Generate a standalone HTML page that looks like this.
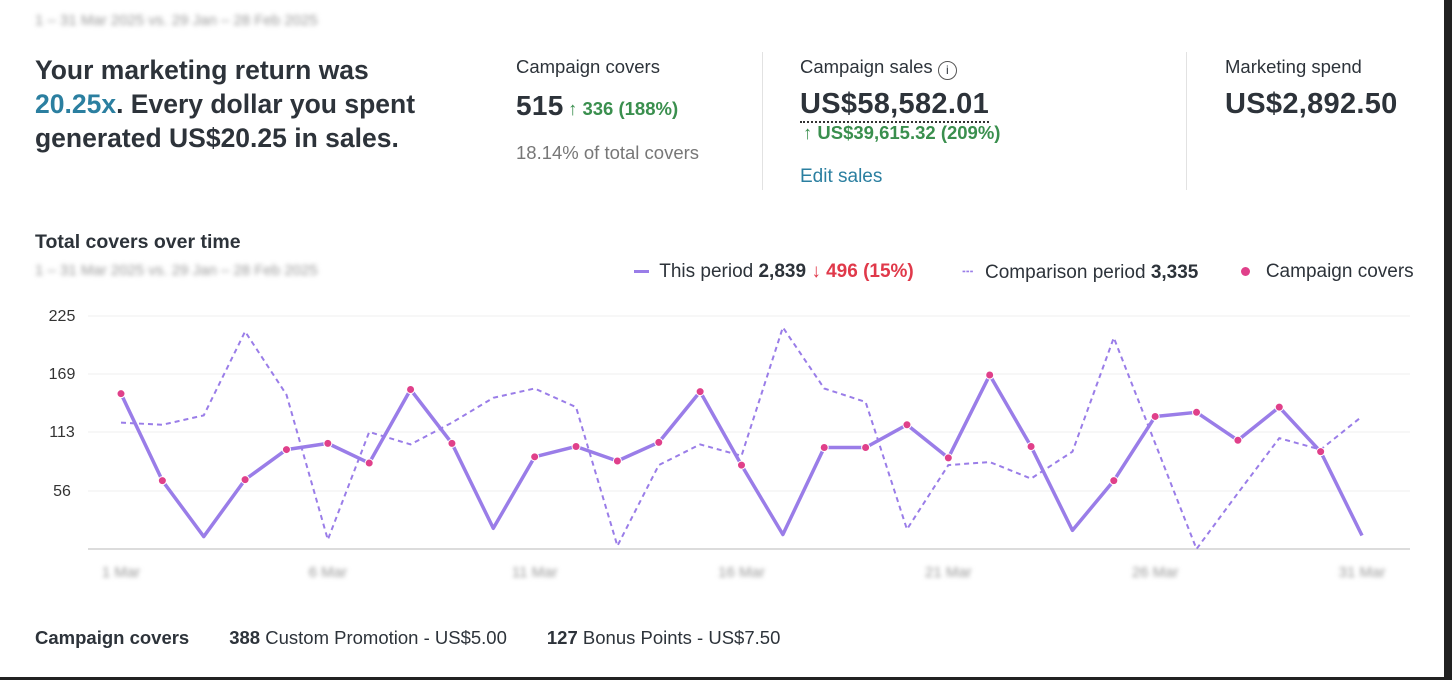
<!DOCTYPE html>
<html><head><meta charset="utf-8">
<style>
body{margin:0;width:1452px;height:680px;overflow:hidden;background:#fff;font-family:"Liberation Sans",sans-serif;color:#2d333a;position:relative}
.a{position:absolute;white-space:nowrap}
.blur{filter:blur(2.5px);color:#999;font-size:15px}
.lbl{font-size:18.5px;color:#2d333a}
.big{font-size:28px;font-weight:bold;color:#2d333a;letter-spacing:0.3px}
.green{color:#3a8f4e}
.div{position:absolute;width:1px;background:#e2e2e2;top:52px;height:138px}
</style></head><body>
<div class="a blur" style="left:35px;top:12px">1 – 31 Mar 2025 vs. 29 Jan – 28 Feb 2025</div>
<div class="a" style="left:35px;top:53px;font-size:26.5px;font-weight:bold;line-height:34px">Your marketing return was<br><span style="color:#2b7fa0">20.25x</span>. Every dollar you spent<br>generated US$20.25 in sales.</div>
<div class="a lbl" style="left:516px;top:56px">Campaign covers</div>
<div class="a" style="left:516px;top:90px"><span class="big">515</span> <span class="green" style="font-size:18.5px;font-weight:bold">↑ 336 (188%)</span></div>
<div class="a" style="left:516px;top:142px;font-size:18.5px;color:#777">18.14% of total covers</div>
<div class="div" style="left:762px"></div>
<div class="a lbl" style="left:800px;top:56px">Campaign sales <span style="display:inline-block;width:17px;height:17px;border:1.5px solid #555;border-radius:50%;font-size:12px;text-align:center;line-height:17px;vertical-align:-1px">i</span></div>
<div class="a big" style="left:800px;top:88px;border-bottom:2px dotted #333;padding-bottom:0px;font-size:29px">US$58,582.01</div>
<div class="a green" style="left:803px;top:122px;font-size:18.5px;font-weight:bold">↑ US$39,615.32 (209%)</div>
<div class="a" style="left:800px;top:166px;font-size:19px;color:#2b7fa0">Edit sales</div>
<div class="div" style="left:1186px"></div>
<div class="a lbl" style="left:1225px;top:56px">Marketing spend</div>
<div class="a big" style="left:1225px;top:88px;font-size:29px">US$2,892.50</div>

<div class="a" style="left:35px;top:231px;font-size:19.5px;font-weight:bold">Total covers over time</div>
<div class="a blur" style="left:35px;top:262px">1 – 31 Mar 2025 vs. 29 Jan – 28 Feb 2025</div>
<div class="a" style="left:634px;top:261px;font-size:19px"><span style="display:inline-block;width:15px;height:3px;background:#9a7de8;vertical-align:middle"></span>&nbsp; This period <b>2,839</b> <span style="color:#e0394a;font-weight:bold">↓ 496 (15%)</span></div>
<div class="a" style="left:962px;top:261px;font-size:19px"><span style="color:#9a7de8;letter-spacing:1px">┄</span>&nbsp; Comparison period <b>3,335</b></div>
<div class="a" style="left:1241px;top:261px;font-size:19px"><span style="display:inline-block;width:9px;height:9px;border-radius:50%;background:#e0408a;vertical-align:middle"></span>&nbsp;&nbsp; Campaign covers</div>
<svg id="chart" width="1452" height="680" style="position:absolute;left:0;top:0"></svg>
<div class="a" style="left:35px;top:627px;font-size:18.5px"><b>Campaign covers</b><span style="margin-left:40px"><b>388</b> Custom Promotion - US$5.00</span><span style="margin-left:40px"><b>127</b> Bonus Points - US$7.50</span></div>
<div class="a" style="left:1444px;top:0;width:8px;height:680px;background:#222"></div>
<div class="a" style="left:0;top:677px;width:1452px;height:3px;background:#222"></div>
<script>
const days=[1,2,3,4,5,6,7,8,9,10,11,12,13,14,15,16,17,18,19,20,21,22,23,24,25,26,27,28,29,30,31];
const thisPeriod=[150,66,12,67,96,102,83,154,102,20,89,99,85,103,152,81,14,98,98,120,88,168,99,18,66,128,132,105,137,94,13];
const comparison=[122,120,129,210,149,9,113,101,122,146,155,137,3,81,101,90,214,155,142,19,81,84,68,94,204,102,0,54,107,96,128];
const campaign=[1,1,0,1,1,1,1,1,1,0,1,1,1,1,1,1,0,1,1,1,1,1,1,0,1,1,1,1,1,1,0];
const yTicks=[0,56,113,169,225];
const xTickDays=[1,6,11,16,21,26,31];
const NS='http://www.w3.org/2000/svg';
const svg=document.getElementById('chart');
const x=d=>121+(d-1)*(1362-121)/30;
const y=v=>549-v*(549-316)/225;
function mk(t,a){const e=document.createElementNS(NS,t);for(const k in a)e.setAttribute(k,a[k]);svg.appendChild(e);return e;}
yTicks.forEach(t=>{
  const l=mk('line',{x1:88,x2:1410,y1:y(t),y2:y(t),stroke:t===0?'#dcdcdc':'#efefef','stroke-width':t===0?2:1});
  
  
  if(t>0){const tx=mk('text',{x:62,y:y(t)+5,'text-anchor':'middle','font-size':16,fill:'#333','font-family':'Liberation Sans'});tx.textContent=t;
  
  }
});
xTickDays.forEach(d=>{
  const tx=mk('text',{x:x(d),y:577,'text-anchor':'middle','font-size':15,fill:'#999',filter:'blur(2px)','font-family':'Liberation Sans'});tx.textContent=d+' Mar';
  
  
});
const cp=mk('polyline',{points:comparison.map((v,i)=>x(days[i])+','+y(v)).join(' '),fill:'none',stroke:'#9a7de8','stroke-width':2,'stroke-dasharray':'5,4'});


const tp=mk('polyline',{points:thisPeriod.map((v,i)=>x(days[i])+','+y(v)).join(' '),fill:'none',stroke:'#9a7de8','stroke-width':3.5,'stroke-linejoin':'round'});


thisPeriod.forEach((v,i)=>{if(!campaign[i])return;
  const c=mk('circle',{cx:x(days[i]),cy:y(v),r:4,fill:'#e0408a',stroke:'#fff','stroke-width':1});
  
  
});
</script>
</body></html>
